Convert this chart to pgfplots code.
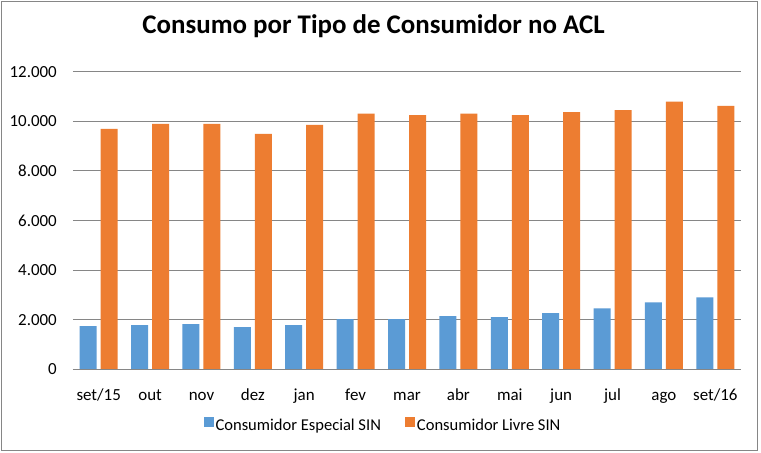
\documentclass[border=0pt]{standalone}
\usepackage{pgfplots}
\pgfplotsset{compat=1.18}
\usepackage{fontspec}
\setmainfont{Carlito}
\definecolor{cblue}{HTML}{5B9BD5}
\definecolor{corange}{HTML}{ED7D31}
\definecolor{gridgray}{HTML}{868686}
\begin{document}
\begin{tikzpicture}
\useasboundingbox (-73bp,-83.7bp) rectangle (688bp,369.3bp);
\fill[white] (-73bp,-83.7bp) rectangle (688bp,369.3bp);
\draw[gridgray, line width=0.8bp] (-72bp,-80.7bp) rectangle (684bp,368.3bp);
\begin{axis}[
  at={(0,0)}, anchor=south west,
  scale only axis, width=668bp, height=297.7bp,
  xmin=-0.5, xmax=12.5, ymin=0, ymax=12000,
  ytick={0,2000,4000,6000,8000,10000,12000},
  scaled y ticks=false,
  /pgf/number format/.cd, 1000 sep={.}, assume math mode=true, /pgfplots/.cd,
  xtick={0,...,12},
  xticklabels={set/15,out,nov,dez,jan,fev,mar,abr,mai,jun,jul,ago,set/16},
  tick style={draw=none},
  ymajorgrids, grid style={gridgray, line width=0.8bp},
  axis line style={draw=none},
  ticklabel style={font=\fontsize{17}{20}\selectfont, text=black},
  yticklabel style={inner sep=0pt, anchor=east, xshift=-16bp},
  xticklabel style={inner sep=0pt, anchor=base, yshift=-27bp},
  ybar, bar width=17bp,
  legend style={draw=none, font=\fontsize{16.6}{20}\selectfont, at={(0.5,0)}, anchor=center, yshift=-56.4bp, xshift=-24bp, legend columns=2, /tikz/every even column/.append style={column sep=22bp}},
  legend image code/.code={\fill[#1] (0bp,-1bp) rectangle (10bp,9bp);},
]
\addplot[fill=cblue, draw=none, bar shift=-10.5bp] coordinates {
(0,1740) (1,1780) (2,1820) (3,1700) (4,1780) (5,2020) (6,2020) (7,2140) (8,2100) (9,2260) (10,2460) (11,2700) (12,2900)};
\addplot[fill=corange, draw=none, bar shift=10.5bp] coordinates {
(0,9690) (1,9890) (2,9890) (3,9490) (4,9850) (5,10310) (6,10250) (7,10310) (8,10250) (9,10370) (10,10450) (11,10790) (12,10620)};
\legend{Consumidor Especial SIN, Consumidor Livre SIN}
\draw[gridgray, line width=0.8bp] (axis cs:-0.5,0) -- (axis cs:12.5,0);
\end{axis}
\node[anchor=base, font=\bfseries\fontsize{27}{32}\selectfont] at (300.5bp,336bp) {Consumo por Tipo de Consumidor no ACL};
\end{tikzpicture}
\end{document}
